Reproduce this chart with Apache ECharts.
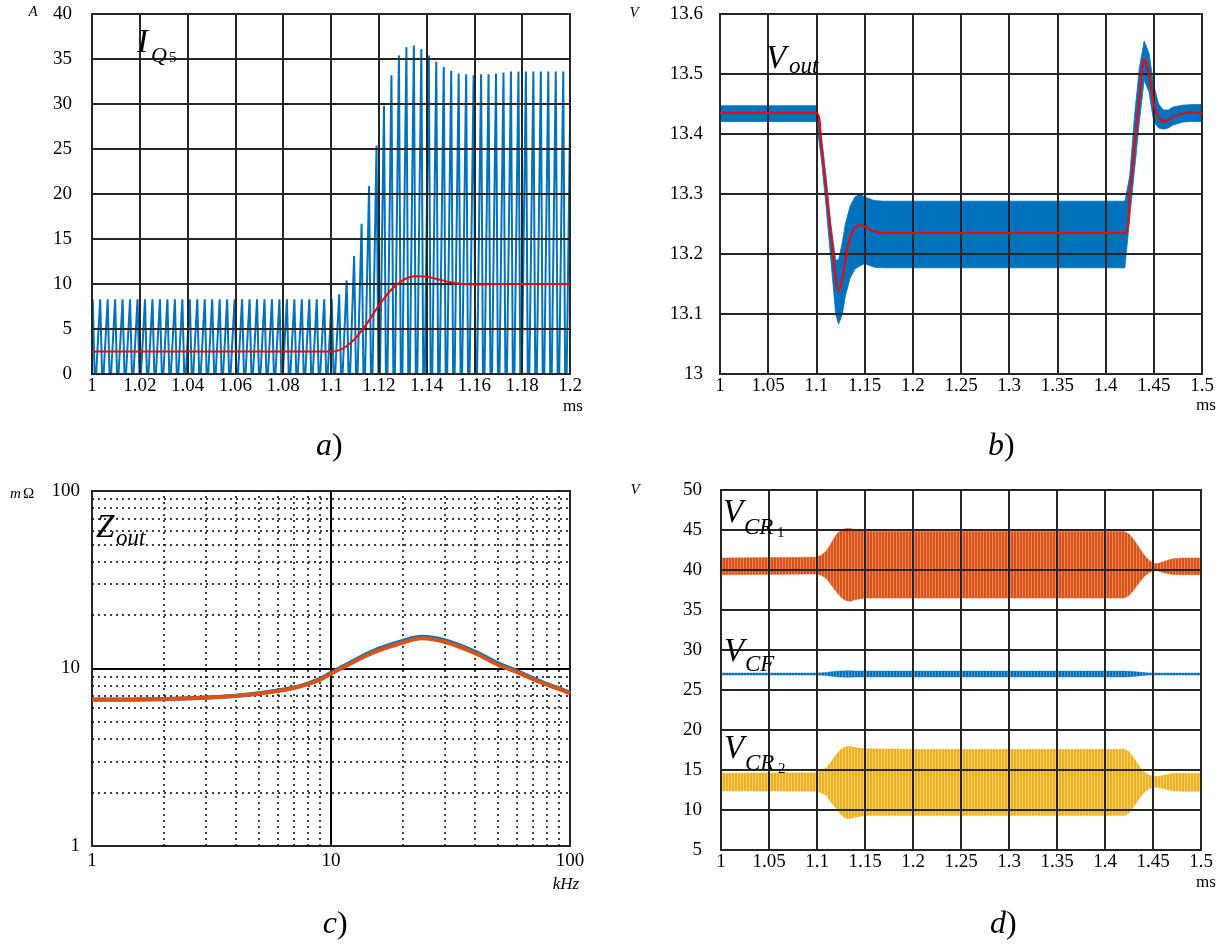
<!DOCTYPE html>
<html><head><meta charset="utf-8">
<script src="https://cdn.jsdelivr.net/npm/echarts@6.0.0/dist/echarts.min.js"></script>
<style>html,body{margin:0;padding:0;background:#fff}#c{width:1229px;height:947px}</style>
</head><body><div id="c"></div>
<script>
// ---------- Panel a) I_Q5 (A vs ms) ----------
const aPulseStart = 1.0003;      // time of first current peak (ms)
const aPulsePeriod = 0.003125;   // switching period (ms)
const aPeaks = [
  8.3,8.3,8.3,8.3,8.3,8.3,8.3,8.3, 8.3,8.3,8.3,8.3,8.3,8.3,8.3,8.3,
  8.3,8.3,8.3,8.3,8.3,8.3,8.3,8.3, 8.3,8.3,8.3,8.3,8.3,8.3,8.3,8.3,
  8.4,
  8.85,10.4,13.1,16.7,20.9,25.4,29.8,33.2,35.4,36.3,36.5,36.1,35.4,34.7,34.1,33.7,
  33.4,33.3,33.2,33.3,33.3,33.4,33.5,33.6,
  33.6,33.6,33.6,33.6,33.6,33.6,33.6,33.6
];
const aMinor = [
  0.7,0.7,0.7,0.7,0.7,0.7,0.7,0.7, 0.7,0.7,0.7,0.7,0.7,0.7,0.7,0.7,
  0.7,0.7,0.7,0.7,0.7,0.7,0.7,0.7, 0.7,0.7,0.7,0.7,0.7,0.7,0.7,0.7,
  0.7,
  0.9,1.2,1.5,1.8,2.1,2.4,2.8,2.8,2.8,2.8,2.8,2.8,2.8,2.8,2.8,2.8,
  2.8,2.8,2.8,2.8,2.8,2.8,2.8,2.8,
  2.8,2.8,2.8,2.8,2.8,2.8,2.8,2.8
];
const aAvgTime = [1.0, 1.1, 1.103, 1.106, 1.11, 1.115, 1.12, 1.125, 1.13, 1.135, 1.14, 1.145, 1.15, 1.155, 1.16, 1.17, 1.2];
const aAvgVal  = [2.5, 2.5, 2.6, 3.0, 3.9, 5.6, 7.6, 9.3, 10.4, 10.85, 10.8, 10.5, 10.2, 10.0, 9.95, 10.0, 10.0];

// ---------- Panel b) V_out (V vs ms) ----------
const bTime  = [1.0, 1.1, 1.105, 1.11, 1.115, 1.12, 1.123, 1.127, 1.13, 1.135, 1.14, 1.145, 1.15, 1.16, 1.17, 1.2, 1.42, 1.425, 1.43, 1.435, 1.44, 1.445, 1.45, 1.455, 1.46, 1.465, 1.47, 1.48, 1.49, 1.5];
const bAvg   = [13.435, 13.435, 13.38, 13.31, 13.235, 13.16, 13.138, 13.16, 13.19, 13.228, 13.243, 13.248, 13.246, 13.238, 13.235, 13.235, 13.235, 13.30, 13.38, 13.46, 13.525, 13.50, 13.45, 13.428, 13.421, 13.423, 13.428, 13.434, 13.436, 13.435];
const bUpper = [13.447, 13.447, 13.40, 13.33, 13.25, 13.19, 13.19, 13.22, 13.25, 13.28, 13.295, 13.30, 13.295, 13.289, 13.288, 13.288, 13.288, 13.33, 13.43, 13.51, 13.555, 13.535, 13.48, 13.45, 13.44, 13.44, 13.445, 13.448, 13.449, 13.449];
const bLower = [13.421, 13.421, 13.36, 13.28, 13.19, 13.10, 13.083, 13.10, 13.13, 13.16, 13.175, 13.18, 13.184, 13.178, 13.177, 13.177, 13.177, 13.26, 13.34, 13.42, 13.49, 13.47, 13.42, 13.41, 13.408, 13.41, 13.415, 13.42, 13.421, 13.421];

// ---------- Panel c) Z_out (mOhm vs kHz) ----------
const cFreq   = [1, 2, 3, 4, 5, 6, 7, 8, 9, 10, 12, 15, 20, 24, 30, 40, 50, 60, 70, 80, 90, 100];
const cOrange = [6.67, 6.72, 6.84, 7.01, 7.23, 7.47, 7.76, 8.16, 8.66, 9.35, 10.6, 12.3, 14.0, 14.8, 14.1, 12.2, 10.5, 9.55, 8.7, 8.1, 7.66, 7.25];
const cBlue   = [6.68, 6.73, 6.86, 7.03, 7.26, 7.51, 7.81, 8.22, 8.74, 9.45, 10.78, 12.55, 14.3, 15.1, 14.4, 12.45, 10.68, 9.68, 8.8, 8.17, 7.72, 7.3];
const cMinorX = [2, 3, 4, 5, 6, 7, 8, 9, 20, 30, 40, 50, 60, 70, 80, 90];
const cMinorY = [2, 3, 4, 5, 6, 7, 8, 9, 20, 30, 40, 50, 60, 70, 80, 90];

// ---------- Panel d) V_CR1, V_CF, V_CR2 (V vs ms) ----------
const dTime    = [1.0, 1.1, 1.105, 1.11, 1.115, 1.12, 1.125, 1.13, 1.135, 1.14, 1.15, 1.2, 1.42, 1.425, 1.43, 1.435, 1.44, 1.445, 1.45, 1.455, 1.46, 1.47, 1.48, 1.5];
const dCR1Up   = [41.5, 41.6, 41.9, 42.4, 43.4, 44.4, 45.0, 45.2, 45.2, 45.0, 44.8, 44.8, 44.8, 44.5, 43.8, 42.9, 42.0, 41.3, 40.8, 40.8, 41.0, 41.4, 41.5, 41.5];
const dCR1Lo   = [39.4, 39.5, 39.3, 38.9, 38.1, 37.3, 36.6, 36.2, 36.1, 36.3, 36.5, 36.5, 36.5, 36.8, 37.5, 38.3, 39.1, 39.6, 39.9, 39.9, 39.7, 39.45, 39.4, 39.4];
const dCFUp    = [27.12, 27.12, 27.15, 27.2, 27.28, 27.34, 27.38, 27.4, 27.4, 27.38, 27.36, 27.36, 27.36, 27.34, 27.3, 27.24, 27.18, 27.14, 27.12, 27.12, 27.12, 27.12, 27.12, 27.12];
const dCFLo    = [26.88, 26.88, 26.85, 26.8, 26.72, 26.66, 26.62, 26.6, 26.6, 26.62, 26.64, 26.64, 26.64, 26.66, 26.7, 26.76, 26.82, 26.86, 26.88, 26.88, 26.88, 26.88, 26.88, 26.88];
const dCR2Up   = [14.6, 14.65, 14.9, 15.3, 16.1, 16.9, 17.6, 17.95, 17.95, 17.8, 17.65, 17.6, 17.6, 17.3, 16.5, 15.6, 14.8, 14.4, 14.2, 14.2, 14.3, 14.55, 14.6, 14.6];
const dCR2Lo   = [12.4, 12.35, 12.1, 11.8, 10.9, 10.2, 9.4, 8.95, 8.95, 9.1, 9.3, 9.3, 9.3, 9.6, 10.4, 11.3, 12.1, 12.6, 12.85, 12.85, 12.7, 12.4, 12.35, 12.35];

// ---------- build ----------
const FONT = '"Liberation Serif", "DejaVu Serif", serif';
const GC = '#262626';
const BLUE = '#0072BD', ORANGE = '#D95319', YELLOW = '#EDB120', RED = '#FF0000';

const aWave = [];
aPeaks.forEach((pk, i) => {
  const tp = aPulseStart + i * aPulsePeriod;
  aWave.push([tp - 0.3 * aPulsePeriod, 0], [tp, pk], [tp + 0.25 * aPulsePeriod, 0],
             [tp + 0.36 * aPulsePeriod, aMinor[i]], [tp + 0.46 * aPulsePeriod, 0]);
});

// striped fill (switching ripple texture) for the capacitor-voltage bands
function stripes(color, light) {
  const cv = document.createElement('canvas');
  cv.width = 3; cv.height = 4;
  const g = cv.getContext('2d');
  g.fillStyle = color; g.fillRect(0, 0, 3, 4);
  g.fillStyle = light; g.fillRect(2, 0, 1, 4);
  return { image: cv, repeat: 'repeat' };
}
function band(times, up, lo, fill, stroke) {
  return function (params, api) {
    if (params.dataIndex !== 0) return null;
    const pts = [];
    for (let i = 0; i < times.length; i++) pts.push(api.coord([times[i], up[i]]));
    for (let i = times.length - 1; i >= 0; i--) pts.push(api.coord([times[i], lo[i]]));
    return { type: 'polygon', shape: { points: pts }, style: { fill: fill, stroke: stroke, lineWidth: 0.8 } };
  };
}
function bandSeries(ax, times, up, lo, fill, stroke) {
  return { type: 'custom', xAxisIndex: ax, yAxisIndex: ax, silent: true, clip: true, z: 1,
    data: times.map((t, i) => [t, up[i], lo[i]]), encode: { x: 0, y: [1, 2] },
    renderItem: band(times, up, lo, fill, stroke) };
}
const fmt = v => String(+v.toFixed(3));
function linAxis(grid, min, max, interval, isX, margin) {
  return { gridIndex: grid, type: 'value', min, max, interval, z: 3,
    axisLine: { show: false }, axisTick: { show: false },
    splitLine: { show: true, lineStyle: { color: GC, width: 2 } },
    axisLabel: { formatter: fmt, fontSize: 19, fontFamily: FONT, color: '#000', margin } };
}
function logAxis(grid, margin) {
  return { gridIndex: grid, type: 'log', logBase: 10, min: 1, max: 100,
    axisLine: { show: false }, axisTick: { show: false },
    splitLine: { show: true, lineStyle: { color: '#000', width: 2 } },
    axisLabel: { fontSize: 19, fontFamily: FONT, color: '#000', margin } };
}

const texts = [];
function T(text, x, y, size, italic, align) {
  texts.push({ type: 'text', x, y, z: 100, silent: true,
    style: { text, font: (italic ? 'italic ' : '') + size + 'px ' + FONT, fill: '#000',
      align: align || 'left', verticalAlign: 'middle', textAlign: align || 'left', textVerticalAlign: 'middle' } });
}
// units
T('A', 33, 12, 15, true, 'center');
T('V', 634, 13, 15, true, 'center');
T('m', 10, 494, 15, true, 'left'); T('\u03A9', 23, 494, 15, false, 'left');
T('V', 635, 490, 15, true, 'center');
T('ms', 573, 407, 17, false, 'center');
T('ms', 1206, 406, 17, false, 'center');
T('ms', 1206, 883, 17, false, 'center');
T('kHz', 566, 885, 17, true, 'center');
// captions
T('a', 332, 447, 32, true, 'right'); T(')', 332, 447, 32, false, 'left');
T('b', 1004, 447, 32, true, 'right'); T(')', 1004, 447, 32, false, 'left');
T('c', 337, 925, 32, true, 'right'); T(')', 337, 925, 32, false, 'left');
T('d', 1006, 925, 32, true, 'right'); T(')', 1006, 925, 32, false, 'left');
// in-plot names
T('I', 137, 43, 33, true); T('Q', 151, 56, 22, true); T('5', 169, 58, 15, false);
T('V', 766, 59, 33, true); T('out', 789, 67, 23, true);
T('Z', 96, 528, 33, true); T('out', 116, 539, 23, true);
T('V', 723, 513, 33, true); T('CR', 744, 528, 23, true); T('1', 777, 533, 15, false);
T('V', 724, 652, 33, true); T('CF', 745, 665, 23, true);
T('V', 724, 749, 33, true); T('CR', 745, 764, 23, true); T('2', 778, 769, 15, false);

const option = {
  animation: false,
  backgroundColor: '#fff',
  grid: [
    { left: 92, top: 14, width: 478, height: 360, show: true, borderColor: GC, borderWidth: 2, z: 4 },
    { left: 720, top: 14, width: 482, height: 360, show: true, borderColor: GC, borderWidth: 2, z: 4 },
    { left: 92, top: 491, width: 478, height: 355, show: true, borderColor: GC, borderWidth: 2, z: 4 },
    { left: 721, top: 490, width: 480, height: 360, show: true, borderColor: GC, borderWidth: 2, z: 4 }
  ],
  xAxis: [
    linAxis(0, 1, 1.2, 0.02, true, 3),
    linAxis(1, 1, 1.5, 0.05, true, 3),
    logAxis(2, 6),
    linAxis(3, 1, 1.5, 0.05, true, 3)
  ],
  yAxis: [
    linAxis(0, 0, 40, 5, false, 20),
    linAxis(1, 13, 13.6, 0.1, false, 17),
    logAxis(2, 12),
    linAxis(3, 5, 50, 5, false, 19)
  ],
  graphic: texts,
  series: [
    { type: 'line', xAxisIndex: 0, yAxisIndex: 0, data: aWave, showSymbol: false, z: 1, silent: true,
      lineStyle: { color: BLUE, width: 2 } },
    { type: 'line', xAxisIndex: 0, yAxisIndex: 0, data: aAvgTime.map((t, i) => [t, aAvgVal[i]]),
      showSymbol: false, smooth: 0.3, z: 6, silent: true, lineStyle: { color: RED, width: 2 } },

    bandSeries(1, bTime, bUpper, bLower, BLUE, BLUE),
    { type: 'line', xAxisIndex: 1, yAxisIndex: 1, data: bTime.map((t, i) => [t, bAvg[i]]),
      showSymbol: false, smooth: 0.3, z: 6, silent: true, lineStyle: { color: RED, width: 2 } },

    { type: 'line', xAxisIndex: 2, yAxisIndex: 2, data: [[1, 1]], showSymbol: false, z: 1, silent: true,
      lineStyle: { opacity: 0 },
      markLine: { silent: true, symbol: ['none', 'none'], label: { show: false }, emphasis: { disabled: true },
        lineStyle: { type: [2, 4], color: '#000', width: 1.5 },
        data: cMinorX.map(v => ({ xAxis: v })).concat(cMinorY.map(v => ({ yAxis: v }))) } },
    { type: 'line', xAxisIndex: 2, yAxisIndex: 2, data: cFreq.map((f, i) => [f, cBlue[i]]),
      showSymbol: false, smooth: 0.4, z: 5, silent: true, lineStyle: { color: BLUE, width: 4 } },
    { type: 'line', xAxisIndex: 2, yAxisIndex: 2, data: cFreq.map((f, i) => [f, cOrange[i]]),
      showSymbol: false, smooth: 0.4, z: 6, silent: true, lineStyle: { color: ORANGE, width: 4 } },

    bandSeries(3, dTime, dCR1Up, dCR1Lo, stripes(ORANGE, '#E8865A'), 'rgba(217,83,25,0.6)'),
    bandSeries(3, dTime, dCFUp, dCFLo, stripes(BLUE, '#4D9BD3'), 'rgba(0,114,189,0.6)'),
    bandSeries(3, dTime, dCR2Up, dCR2Lo, stripes(YELLOW, '#F4CF72'), 'rgba(237,177,32,0.6)')
  ]
};
const chart = echarts.init(document.getElementById('c'), null, { renderer: 'canvas' });
chart.setOption(option);
</script></body></html>
